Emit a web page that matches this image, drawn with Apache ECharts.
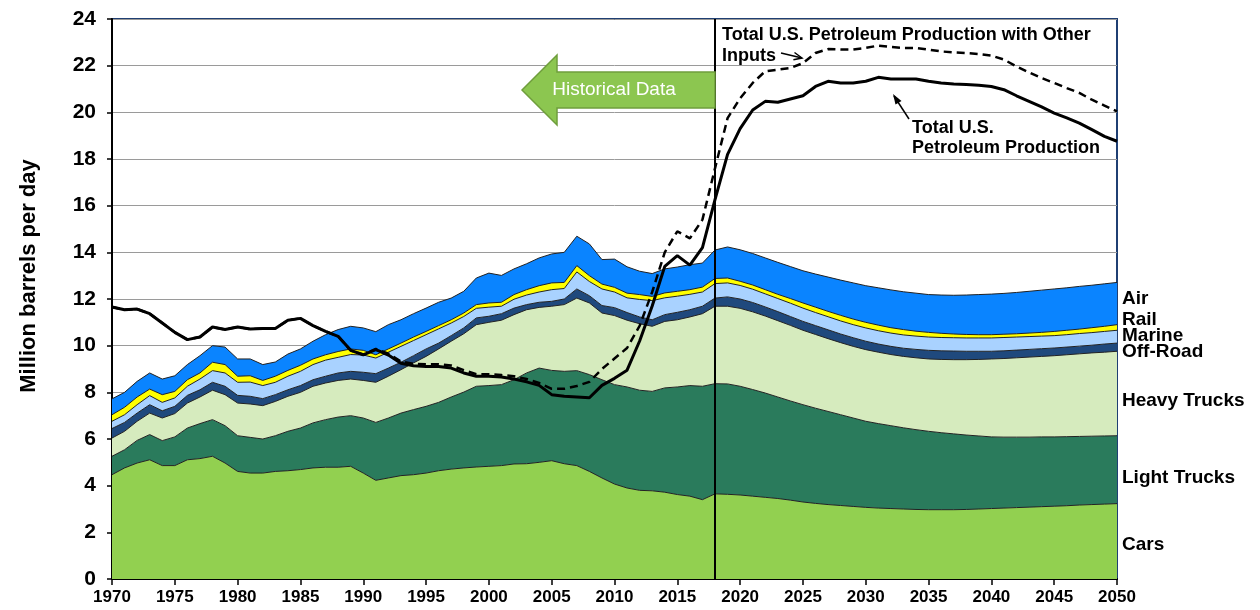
<!DOCTYPE html>
<html><head><meta charset="utf-8">
<script src="https://cdn.jsdelivr.net/npm/echarts@6/dist/echarts.min.js"></script>
<style>html,body{margin:0;padding:0;background:#fff}#c{width:1260px;height:610px}</style>
</head><body><div id="c"></div><script>
// Categories: years 1970..2050
const years = [];
for (let y = 1970; y <= 2050; y++) years.push(String(y));

// Cumulative top levels (million barrels per day), 1970..2050
const carsTop = [4.47,4.76,4.97,5.11,4.86,4.86,5.11,5.16,5.26,4.97,4.61,4.54,4.54,4.61,4.64,4.69,4.76,4.79,4.79,4.83,4.54,4.23,4.33,4.43,4.47,4.54,4.64,4.71,4.76,4.8,4.83,4.86,4.93,4.94,5.0,5.07,4.94,4.86,4.61,4.33,4.07,3.9,3.8,3.78,3.72,3.62,3.55,3.4,3.65,3.63,3.6,3.55,3.5,3.45,3.38,3.3,3.24,3.19,3.15,3.11,3.07,3.04,3.02,3.0,2.98,2.97,2.97,2.97,2.98,3.0,3.02,3.04,3.06,3.08,3.1,3.12,3.14,3.17,3.19,3.21,3.23];
const lightTrucksTop = [5.26,5.54,5.94,6.19,5.93,6.09,6.47,6.66,6.83,6.57,6.14,6.07,6.0,6.14,6.33,6.47,6.69,6.83,6.94,7.0,6.9,6.71,6.9,7.11,7.26,7.4,7.57,7.8,8.01,8.26,8.29,8.33,8.54,8.83,9.04,8.94,8.9,8.93,8.76,8.54,8.33,8.23,8.09,8.04,8.19,8.23,8.29,8.26,8.37,8.36,8.26,8.12,7.97,7.8,7.63,7.47,7.32,7.18,7.04,6.9,6.76,6.66,6.57,6.48,6.4,6.33,6.27,6.22,6.17,6.13,6.09,6.08,6.08,6.08,6.09,6.09,6.1,6.11,6.12,6.13,6.14];
const heavyTrucksTop = [6.04,6.33,6.76,7.11,6.9,7.09,7.54,7.8,8.09,7.9,7.54,7.5,7.43,7.61,7.83,8.0,8.26,8.4,8.51,8.57,8.51,8.43,8.69,8.97,9.26,9.54,9.86,10.19,10.51,10.9,11.0,11.09,11.33,11.54,11.64,11.69,11.76,12.04,11.83,11.4,11.29,11.09,10.94,10.83,11.04,11.11,11.23,11.37,11.69,11.69,11.6,11.45,11.27,11.07,10.87,10.66,10.48,10.3,10.13,9.97,9.83,9.72,9.62,9.54,9.48,9.43,9.41,9.4,9.4,9.41,9.43,9.45,9.48,9.51,9.54,9.57,9.61,9.65,9.69,9.72,9.76];
const offRoadTop = [6.45,6.71,7.11,7.47,7.21,7.4,7.87,8.11,8.43,8.26,7.87,7.83,7.73,7.9,8.11,8.29,8.54,8.69,8.83,8.9,8.86,8.8,9.04,9.29,9.57,9.86,10.11,10.43,10.76,11.19,11.26,11.37,11.61,11.76,11.86,11.9,12.0,12.43,12.14,11.72,11.63,11.42,11.23,11.11,11.33,11.43,11.54,11.69,12.04,12.09,12.0,11.85,11.66,11.46,11.25,11.04,10.86,10.68,10.5,10.34,10.19,10.07,9.97,9.89,9.84,9.8,9.78,9.77,9.76,9.76,9.76,9.78,9.81,9.84,9.87,9.9,9.94,9.98,10.02,10.07,10.11];
const marineTop = [6.76,7.04,7.47,7.86,7.57,7.76,8.26,8.57,8.93,8.83,8.43,8.44,8.29,8.43,8.69,8.9,9.19,9.38,9.5,9.62,9.6,9.47,9.72,9.97,10.22,10.47,10.72,10.97,11.25,11.6,11.65,11.69,11.99,12.17,12.3,12.4,12.45,13.16,12.75,12.43,12.3,12.05,11.98,11.93,12.05,12.12,12.2,12.3,12.66,12.69,12.58,12.42,12.22,12.02,11.82,11.61,11.42,11.24,11.06,10.9,10.76,10.64,10.54,10.46,10.41,10.37,10.35,10.34,10.33,10.33,10.33,10.35,10.37,10.39,10.41,10.43,10.47,10.52,10.56,10.61,10.66];
const railTop = [7.04,7.36,7.8,8.14,7.9,8.04,8.54,8.83,9.29,9.19,8.69,8.71,8.51,8.69,8.94,9.16,9.43,9.61,9.75,9.86,9.8,9.61,9.86,10.11,10.37,10.61,10.86,11.11,11.4,11.76,11.83,11.86,12.19,12.4,12.57,12.69,12.71,13.43,13.0,12.64,12.5,12.25,12.19,12.11,12.26,12.33,12.4,12.51,12.88,12.9,12.76,12.6,12.4,12.2,12.02,11.83,11.65,11.47,11.3,11.14,11.0,10.88,10.77,10.69,10.62,10.57,10.53,10.5,10.48,10.47,10.47,10.49,10.51,10.54,10.57,10.61,10.66,10.71,10.77,10.83,10.9];
const airTop = [7.72,8.0,8.47,8.83,8.57,8.71,9.19,9.57,10.0,9.94,9.43,9.43,9.19,9.3,9.64,9.86,10.19,10.47,10.69,10.83,10.76,10.6,10.9,11.11,11.37,11.61,11.86,12.04,12.33,12.9,13.11,13.01,13.29,13.51,13.76,13.93,14.0,14.69,14.36,13.69,13.71,13.38,13.19,13.09,13.29,13.37,13.47,13.54,14.1,14.23,14.11,13.95,13.76,13.57,13.39,13.21,13.07,12.94,12.81,12.69,12.57,12.48,12.39,12.31,12.25,12.19,12.17,12.16,12.17,12.19,12.21,12.24,12.28,12.33,12.38,12.43,12.48,12.54,12.59,12.65,12.71];

// Production lines, 1970..2050
const production = [11.66,11.54,11.57,11.37,10.97,10.57,10.26,10.37,10.8,10.69,10.8,10.71,10.74,10.74,11.09,11.17,10.86,10.61,10.4,9.8,9.61,9.83,9.6,9.25,9.14,9.11,9.11,9.04,8.83,8.69,8.69,8.66,8.57,8.45,8.3,7.9,7.83,7.8,7.77,8.3,8.6,8.95,10.2,11.7,13.4,13.86,13.45,14.2,16.26,18.2,19.3,20.1,20.47,20.43,20.57,20.71,21.11,21.33,21.26,21.26,21.33,21.5,21.43,21.43,21.43,21.33,21.26,21.21,21.19,21.16,21.11,20.97,20.71,20.47,20.23,19.97,19.76,19.54,19.26,18.97,18.76];
const productionOther = [11.66,11.54,11.57,11.37,10.97,10.57,10.26,10.37,10.8,10.69,10.8,10.71,10.74,10.74,11.09,11.17,10.86,10.61,10.4,9.8,9.61,9.86,9.66,9.32,9.22,9.2,9.2,9.15,8.95,8.78,8.78,8.74,8.69,8.57,8.4,8.15,8.15,8.27,8.45,9.0,9.45,9.9,10.85,12.3,14.0,14.9,14.6,15.4,17.6,19.75,20.6,21.26,21.76,21.83,21.9,22.11,22.54,22.71,22.69,22.69,22.76,22.86,22.8,22.76,22.76,22.69,22.61,22.57,22.54,22.5,22.43,22.26,21.97,21.71,21.47,21.26,21.04,20.83,20.54,20.29,20.04];

const seriesNames = ['Cars','Light Trucks','Heavy Trucks','Off-Road','Marine','Rail','Air'];
const seriesColors = ['#92D050','#2A7B5C','#D6EBBE','#1F497D','#A9D2FF','#FFFF00','#0A84FF'];
const tops = [carsTop, lightTrucksTop, heavyTrucksTop, offRoadTop, marineTop, railTop, airTop];

const areaSeries = tops.map((top, k) => ({
  name: seriesNames[k], type: 'line', stack: 'total', symbol: 'none', z: 2,
  data: top.map((v, i) => +(v - (k ? tops[k-1][i] : 0)).toFixed(3)),
  lineStyle: { width: 1, color: '#222' },
  areaStyle: { color: seriesColors[k], opacity: 1 },
  itemStyle: { color: seriesColors[k] }
}));

const FONT = 'Arial, "Liberation Sans", sans-serif';
const chart = echarts.init(document.getElementById('c'), null, { renderer: 'canvas' });
const txt = (x, y, s, size, extra) => Object.assign({
  type: 'text', x: x, y: y, z: 100,
  style: Object.assign({ text: s, fill: '#000', font: 'bold ' + size + 'px ' + FONT, textVerticalAlign: 'middle' }, extra || {})
});
chart.setOption({
  animation: false,
  backgroundColor: '#fff',
  grid: { left: 112, right: 143, top: 19, bottom: 31, show: true, borderColor: '#1F3F73', borderWidth: 2, backgroundColor: 'transparent' },
  xAxis: {
    type: 'category', data: years, boundaryGap: false,
    axisLine: { lineStyle: { color: '#000', width: 2 } },
    axisTick: { interval: 4, length: 6, lineStyle: { color: '#000', width: 1.5 } },
    axisLabel: { interval: 4, color: '#000', fontWeight: 'bold', fontSize: 17, fontFamily: FONT, margin: 10 },
    splitLine: { show: false }
  },
  yAxis: {
    type: 'value', min: 0, max: 24, interval: 2,
    axisLine: { show: true, lineStyle: { color: '#000', width: 2 } },
    axisTick: { show: true, length: 5, lineStyle: { color: '#000', width: 1.5 } },
    axisLabel: { color: '#000', fontWeight: 'bold', fontSize: 21, fontFamily: FONT, margin: 16 },
    splitLine: { lineStyle: { color: '#9a9a9a', width: 1 } }
  },
  series: areaSeries.concat([
    { name: 'Total U.S. Petroleum Production with Other Inputs', type: 'line', symbol: 'none', z: 4,
      data: productionOther, lineStyle: { color: '#000', width: 2.5, type: [8, 5] },
      markLine: { symbol: 'none', silent: true, label: { show: false }, lineStyle: { color: '#000', width: 2, type: 'solid' }, data: [{ xAxis: '2018' }] } },
    { name: 'Total U.S. Petroleum Production', type: 'line', symbol: 'none', z: 5,
      data: production, lineStyle: { color: '#000', width: 3 } }
  ]),
  graphic: [
    { type: 'text', x: 29, y: 276, rotation: Math.PI / 2, z: 100,
      style: { text: 'Million barrels per day', fill: '#000', font: 'bold 22px ' + FONT, textAlign: 'center', textVerticalAlign: 'middle' } },
    { type: 'polygon', z: 90, shape: { points: [[522,90],[557,55],[557,72],[715,72],[715,108],[557,108],[557,125]] },
      style: { fill: '#8CC650', stroke: '#6F9E3C', lineWidth: 1.5 } },
    { type: 'text', x: 614, y: 90, z: 100, style: { text: 'Historical Data', fill: '#fff', font: '19px ' + FONT, textAlign: 'center', textVerticalAlign: 'middle' } },
    txt(722, 35, 'Total U.S. Petroleum Production with Other', 18),
    txt(722, 56, 'Inputs', 18),
    { type: 'line', z: 100, shape: { x1: 781, y1: 53, x2: 802, y2: 58 }, style: { stroke: '#000', lineWidth: 1.5 } },
    { type: 'polyline', z: 100, shape: { points: [[794.5,52.5],[802,58],[793.4,59.8]] }, style: { stroke: '#000', lineWidth: 1.5, fill: null } },
    txt(912, 128, 'Total U.S.', 18),
    txt(912, 148, 'Petroleum Production', 18),
    { type: 'line', z: 100, shape: { x1: 909, y1: 119, x2: 894, y2: 96 }, style: { stroke: '#000', lineWidth: 1.5 } },
    { type: 'polygon', z: 100, shape: { points: [[893,94],[901.5,101],[895.5,104.5]] }, style: { fill: '#000' } },
    txt(1122, 299, 'Air', 19),
    txt(1122, 320, 'Rail', 19),
    txt(1122, 336, 'Marine', 19),
    txt(1122, 352, 'Off-Road', 19),
    txt(1122, 401, 'Heavy Trucks', 19),
    txt(1122, 478, 'Light Trucks', 19),
    txt(1122, 545, 'Cars', 19)
  ]
});
</script></body></html>
